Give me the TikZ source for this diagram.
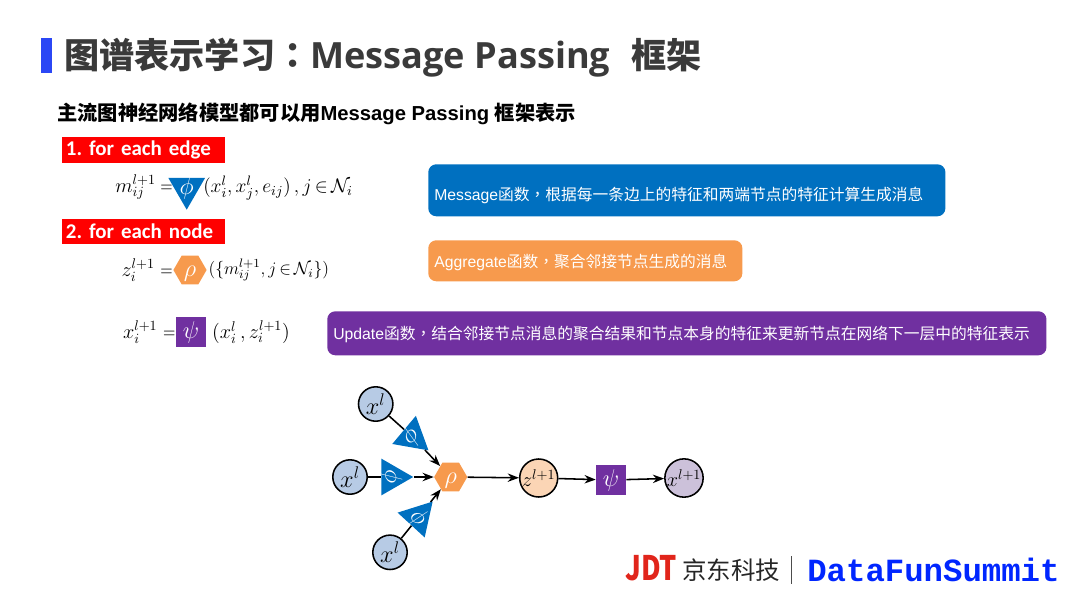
\documentclass[tikz,border=0pt]{standalone}
\usepackage{fix-cm}
\usepackage[no-math]{fontspec}
\setmainfont{Liberation Sans}
\newfontfamily\cjk{Noto Sans CJK SC}
\newfontfamily\cjkmark{Noto Sans CJK TC}
\newfontfamily\calib{Carlito}
\newfontfamily\latinhead{Open Sans}
\newfontfamily\brand{Liberation Mono}
\usetikzlibrary{shapes.geometric, arrows.meta, positioning, calc}

\definecolor{phiblue}{HTML}{0070C0}
\definecolor{rhoorange}{HTML}{F79A4D}
\definecolor{psipurple}{HTML}{7030A0}
\definecolor{barblue}{HTML}{2B47F5}
\definecolor{titlegray}{HTML}{3A3A3A}
\definecolor{inblue}{HTML}{B7CBE5}
\definecolor{zpeach}{HTML}{FBD5B5}
\definecolor{outlilac}{HTML}{CCC1DA}
\definecolor{jdtred}{HTML}{E1251B}

\newcommand{\zhcomma}{{\cjkmark ，}}
\newcommand{\eqsign}{\mathord{\scalebox{.8}[1]{$=$}}}
\newcommand{\tightin}{\mskip3mu\mathord{\in}\mskip3mu}
\newcommand{\noboxsym}[1]{\raisebox{-.5ex}[0pt][0pt]{\makebox[0pt]{#1}}}

\begin{document}
\frenchspacing
\begin{tikzpicture}[
    x=0.025cm, y=-0.025cm,
    heading/.style={rectangle, anchor=north west, fill=red, text=white, minimum width=4.075cm, minimum height=0.62cm, inner sep=0.09cm, text width=3.895cm, align=left, font=\calib\fontsize{14.9}{18}\selectfont\bfseries},
    explain/.style={rectangle, rounded corners=0.2cm, anchor=north west, text=white, inner xsep=0.15cm, inner ysep=0pt, align=left, font=\fontsize{11.2}{14}\selectfont},
    eqn/.style={inner sep=0pt, font=\fontsize{14.4}{16}\selectfont},
    phishape/.style={regular polygon, regular polygon sides=3, fill=phiblue, text=white, inner sep=0pt, minimum size=1.06cm, font=\fontsize{17.28}{18}\selectfont},
    rhoshape/.style={regular polygon, regular polygon sides=6, fill=rhoorange, text=white, inner sep=0pt, minimum size=0.83cm, font=\fontsize{17.28}{18}\selectfont},
    psishape/.style={rectangle, fill=psipurple, text=white, inner sep=0pt, minimum size=0.75cm, font=\fontsize{17.28}{18}\selectfont},
    state/.style={circle, draw=black, line width=1.1pt, inner sep=0pt, minimum size=0.86cm, font=\fontsize{17.28}{18}\selectfont},
    bigstate/.style={state, minimum size=0.95cm, font=\fontsize{14.4}{16}\selectfont},
    arrow/.style={-Stealth, line width=1.1pt}
]
\useasboundingbox (0,0) rectangle (1080,608);

% Title
\fill[barblue] (41,38) rectangle (52,73);
\node (title) [anchor=west, inner sep=0pt, text=titlegray, font=\fontsize{25}{30}\selectfont\bfseries] at (64,58) {{\cjk 图谱表示学习}{\cjkmark ：}{\latinhead\fontsize{25.7}{30}\selectfont Message Passing}\hspace{8pt} {\cjk 框架}};
\node (subtitle) [anchor=west, inner sep=0pt, font=\fontsize{14.4}{17}\selectfont\bfseries] at (57,114) {{\cjk 主流图神经网络模型都可以用}Message Passing {\cjk 框架表示}};

% Headings
\node (edgeHead) [heading] at (62,137) {1. for each edge};
\node (nodeHead) [heading] at (62,219) {2. for each node};

% Equations
\node (phiEq) [phishape, shape border rotate=180] at (186.7,188.5) {\noboxsym{$\phi$}};
\node (msgLeft) [eqn, anchor=west] at (115,187) {$m_{ij}^{l+1}\:\eqsign$};
\node (msgRight) [eqn, anchor=west, font=\fontsize{13.9}{16}\selectfont] at (203,188) {$\bigl(x_i^l,x_j^l,e_{ij}\bigr)\,,j\tightin\mathcal{N}_i$};
\node (rhoEq) [rhoshape] at (190,270) {\noboxsym{$\rho$}};
\node (aggLeft) [eqn, left=0pt of rhoEq] {$z_i^{l+1}\;\eqsign$};
\node (aggRight) [eqn, right=1pt of rhoEq, font=\fontsize{12.5}{15}\selectfont] {$\bigl(\bigl\{m_{ij}^{l+1},j\tightin\mathcal{N}_i\bigr\}\bigr)$};
\node (psiEq) [psishape] at (191,332) {$\psi$};
\node (updLeft) [eqn, left=0pt of psiEq] {$x_i^{l+1}\;\eqsign$};
\node (updRight) [eqn, right=4pt of psiEq] {$\bigl(x_i^l\,,z_i^{l+1}\bigr)$};

% Explanations
\node (msgBox) [explain, fill=phiblue, minimum width=12.925cm, minimum height=1.3cm, text width=12.625cm] at (428,164) {\raisebox{-0.25cm}[0pt][0pt]{Message{\cjk 函数}\zhcomma{\cjk 根据每一条边上的特征和两端节点的特征计算生成消息}}};
\node (aggBox) [explain, fill=rhoorange, minimum width=7.85cm, minimum height=1.025cm, text width=7.55cm] at (428,240) {\raisebox{-0.175cm}[0pt][0pt]{Aggregate{\cjk 函数}\zhcomma{\cjk 聚合邻接节点生成的消息}}};
\node (updBox) [explain, fill=psipurple, minimum width=17.975cm, minimum height=1.1cm, text width=17.675cm] at (327,311) {\raisebox{-0.15cm}[0pt][0pt]{Update{\cjk 函数}\zhcomma{\cjk 结合邻接节点消息的聚合结果和节点本身的特征来更新节点在网络下一层中的特征表示}}};

% Graph
\node (xTop) [state, fill=inblue] at (375.7,404) {$x^l$};
\node (xMid) [state, fill=inblue] at (350,477) {$x^l$};
\node (xBot) [state, fill=inblue] at (390,552.3) {$x^l$};
\node (phiTop) [phishape, rotate=-130] at (412.2,436.7) {\noboxsym{$\phi$}};
\node (phiMid) [phishape, rotate=-90] at (392,477) {\noboxsym{$\phi$}};
\node (phiBot) [phishape, rotate=-42.5] at (418.3,517.2) {\noboxsym{$\phi$}};
\node (rhoNode) [rhoshape] at (450.7,477) {\noboxsym{$\rho$}};
\node (zNode) [bigstate, fill=zpeach] at (538.7,478) {$z^{l+1}$};
\node (psiNode) [psishape] at (611,480) {$\psi$};
\node (xOut) [bigstate, fill=outlilac] at (684,478) {$x^{l+1}$};

% Arrows
\draw [line width=1.1pt] (xTop) -- (phiTop);
\draw [line width=1.1pt] (xMid) -- (phiMid);
\draw [line width=1.1pt] (xBot) -- (phiBot);
\draw [arrow] (phiTop) -- (rhoNode);
\draw [arrow] (phiMid) -- (rhoNode);
\draw [arrow] (phiBot) -- (rhoNode);
\draw [arrow] (rhoNode) -- (zNode);
\draw [arrow] (zNode) -- (psiNode);
\draw [arrow] (psiNode) -- (xOut);

% Logo
\node (jdt) [anchor=west, inner sep=0pt, xscale=0.8, text=jdtred, font=\cjk\fontsize{24}{26}\selectfont\bfseries] at (625,568) {JDT};
\node (jdtName) [anchor=west, inner sep=0pt, text=black!85, font=\cjk\fontsize{17.4}{20}\selectfont] at (682,570) {京东科技};
\draw [black!70, line width=0.6pt] (791,556) -- (791,584);
\node (summit) [anchor=west, inner sep=0pt, text=blue!85!cyan, font=\brand\fontsize{23}{26}\selectfont\bfseries] at (807,570) {DataFunSummit};
\end{tikzpicture}
\end{document}
